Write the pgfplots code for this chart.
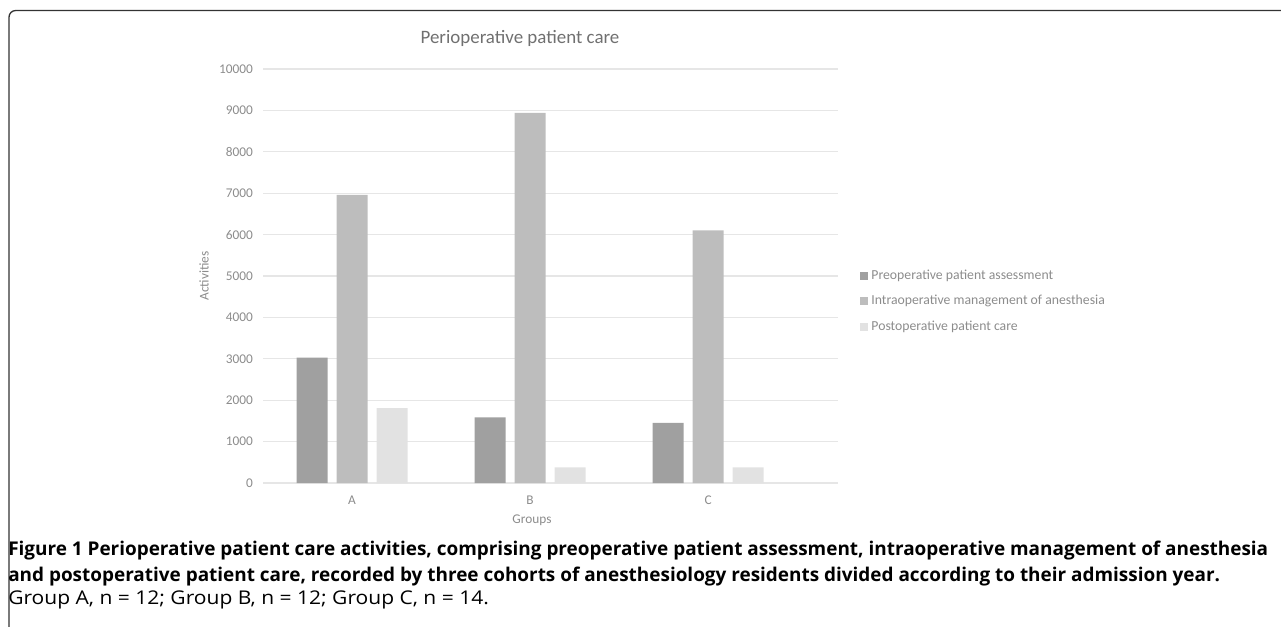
\documentclass[border=0pt]{standalone}
\usepackage{fontspec}
\setmainfont{Carlito}
\newfontfamily\capfont{Open Sans}
\usepackage{pgfplots}
\pgfplotsset{compat=1.18}
\definecolor{cdark}{HTML}{A0A0A0}
\definecolor{cmid}{HTML}{BDBDBD}
\definecolor{clight}{HTML}{E2E2E2}
\definecolor{cgrid}{HTML}{E6E6E6}
\definecolor{ctxt}{HTML}{8C8C8C}
\definecolor{ctitle}{HTML}{707070}
\begin{document}
\begin{tikzpicture}[x=0.75pt,y=-0.75pt]
\useasboundingbox (0,0) rectangle (1281,626);
% frame
\draw[line width=1pt, color=black!80, rounded corners=5pt] (1285,10.5) -- (9,10.5) -- (9,630);
\begin{axis}[
  at={(197.25pt,-362.25pt)}, anchor=south west,
  scale only axis, width=431.25pt, height=310.5pt,
  ybar=6.75pt, bar width=23.25pt,
  xmin=-0.5, xmax=2.73, ymin=0, ymax=10000,
  xtick={0,1,2}, xticklabels={A,B,C},
  ytick={0,1000,...,10000},
  ymajorgrids, grid style={cgrid, line width=0.9pt},
  axis line style={draw=none},
  major tick length=0pt,
  tick label style={font=\fontsize{10}{12}\selectfont, color=ctxt},
  xticklabel style={yshift=-6pt},
  yticklabel style={xshift=-4pt},
  /pgf/number format/assume math mode=true,
  /pgf/number format/1000 sep={},
  scaled y ticks=false,
  legend style={at={(1.031,0.525)}, anchor=north west, draw=none, fill=none,
    font=\fontsize{10.3}{12}\selectfont, text=ctxt, row sep=8.5pt,
    nodes={inner sep=1pt}},
  legend cell align=left,
  legend image code/.code={\fill[#1] (0pt,-2.9pt) rectangle (5.8pt,2.9pt); \path (7.5pt,0pt);},
]
\addplot[fill=cdark, draw=none] coordinates {(0,3030) (1,1585) (2,1450)};
\addplot[fill=cmid, draw=none] coordinates {(0,6960) (1,8940) (2,6100)};
\addplot[fill=clight, draw=none] coordinates {(0,1810) (1,375) (2,375)};
\legend{Preoperative patient assessment, Intraoperative management of anesthesia, Postoperative patient care}
\end{axis}
\node[font=\fontsize{14.2}{17}\selectfont, color=ctitle] at (520,38) {Perioperative patient care};
\node[font=\fontsize{10}{12}\selectfont, color=ctxt, rotate=90] at (204,276) {Activities};
\node[font=\fontsize{10}{12}\selectfont, color=ctxt] at (532,520) {Groups};
\node[anchor=base west, inner sep=0pt, font=\capfont\bfseries\fontsize{14.2}{17}\selectfont] at (8,555) {Figure 1 Perioperative patient care activities, comprising preoperative patient assessment, intraoperative management of anesthesia};
\node[anchor=base west, inner sep=0pt, font=\capfont\bfseries\fontsize{14.2}{17}\selectfont] at (8,581) {and postoperative patient care, recorded by three cohorts of anesthesiology residents divided according to their admission year.};
\node[anchor=base west, inner sep=0pt, font=\capfont\fontsize{14.2}{17}\selectfont] at (8,604) {\scalebox{1.11}[1]{Group A, n = 12; Group B, n = 12; Group C, n = 14.}};
\end{tikzpicture}
\end{document}
